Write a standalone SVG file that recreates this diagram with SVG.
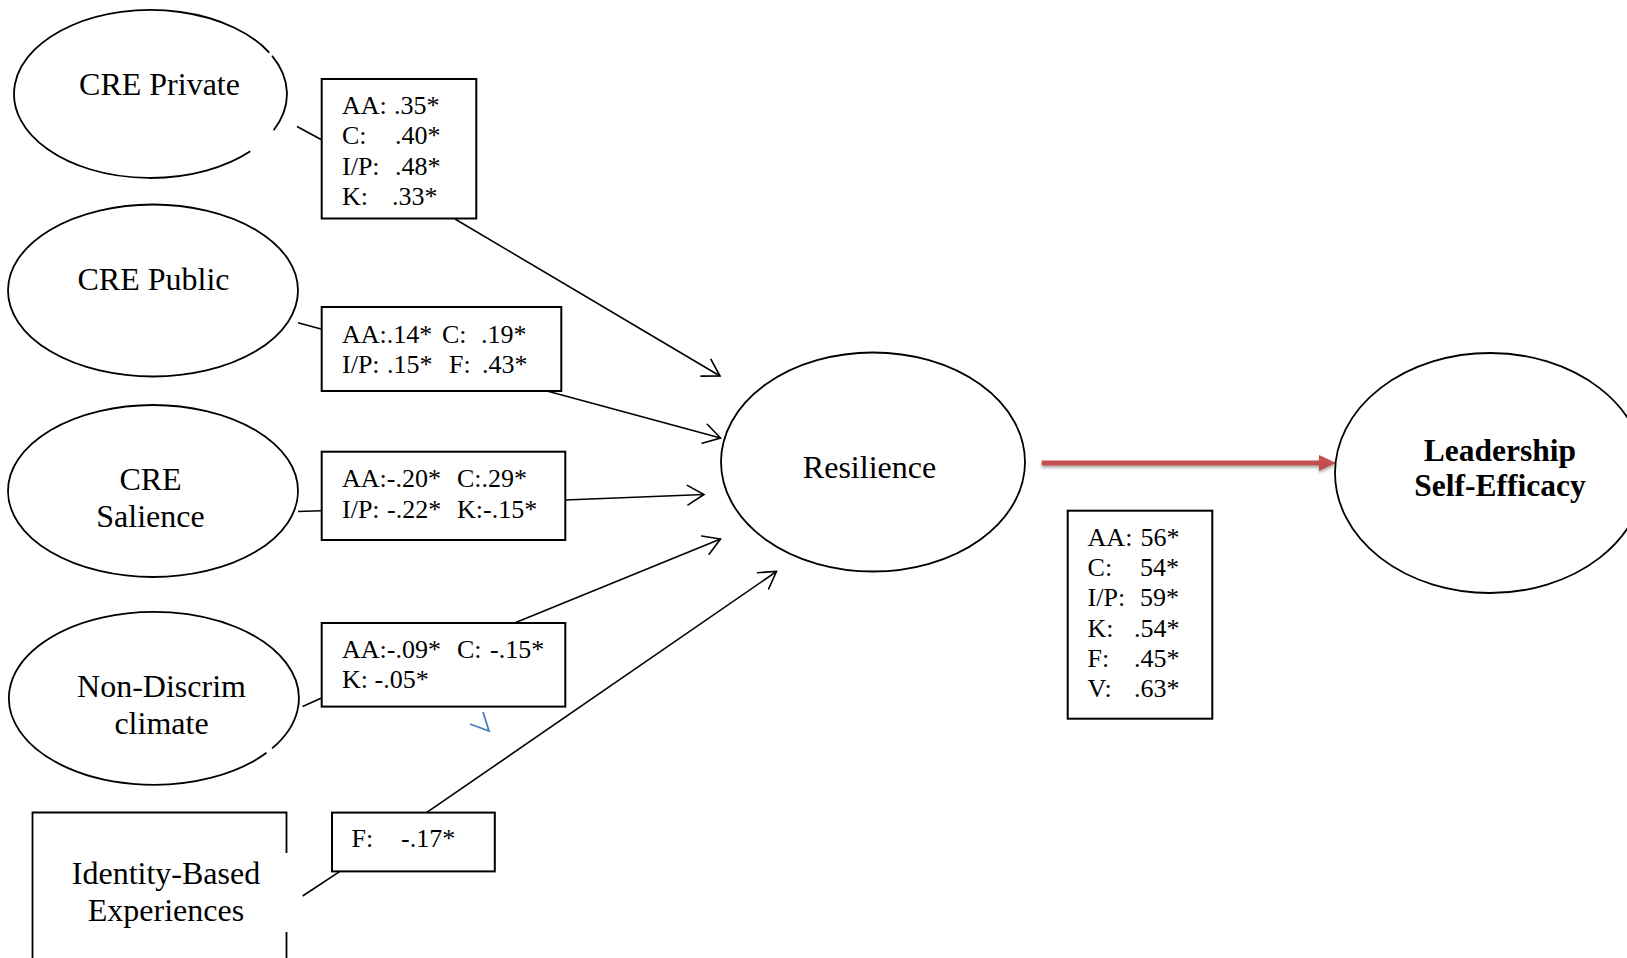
<svg xmlns="http://www.w3.org/2000/svg" width="1627" height="958" viewBox="0 0 1627 958">
  <defs>
    <style>
      .lbl { font-family: "Liberation Serif", "Times New Roman", serif; font-size: 32px; fill: #000; }
      .bold { font-family: "Liberation Serif", "Times New Roman", serif; font-size: 31.5px; font-weight: bold; fill: #000; }
      .val { font-family: "Liberation Serif", "Times New Roman", serif; font-size: 26px; fill: #000; }
      .node { fill: none; stroke: #000; stroke-width: 1.8; }
      .box { fill: #fff; stroke: #000; stroke-width: 2; }
      .conn { fill: none; stroke: #000; stroke-width: 1.6; }
      .arr { marker-end: url(#open); }
    </style>
    <marker id="open" markerUnits="userSpaceOnUse" markerWidth="22" markerHeight="22" viewBox="0 0 22 22" refX="20" refY="11" orient="auto">
      <path d="M3.7,1.2 L20,11 L3.7,20.8" fill="none" stroke="#000" stroke-width="1.6" stroke-linecap="round" stroke-linejoin="miter"/>
    </marker>
    <filter id="shadow" x="-5%" y="-100%" width="110%" height="300%">
      <feDropShadow dx="0" dy="2" stdDeviation="1.5" flood-color="#000" flood-opacity="0.35"/>
    </filter>
  </defs>

  <rect x="0" y="0" width="1627" height="958" fill="#fff"/>

  <g id="connectors">
    <line class="conn" x1="297" y1="126.5" x2="322" y2="140"/>
    <line class="conn arr" x1="455" y1="219" x2="720" y2="376"/>
    <line class="conn" x1="298" y1="322.7" x2="321" y2="329"/>
    <line class="conn arr" x1="547" y1="391" x2="720.5" y2="438"/>
    <line class="conn" x1="298" y1="511.5" x2="321" y2="510.8"/>
    <line class="conn arr" x1="565" y1="500" x2="704" y2="494.5"/>
    <line class="conn" x1="302.6" y1="706.5" x2="321" y2="698.3"/>
    <line class="conn arr" x1="514.5" y1="623" x2="720.5" y2="539"/>
    <line class="conn" x1="302.6" y1="896" x2="339.6" y2="871.7"/>
    <line class="conn arr" x1="426.5" y1="812.7" x2="776.5" y2="571.5"/>
    <g id="red-arrow" filter="url(#shadow)">
      <line x1="1041.7" y1="463" x2="1321" y2="463" stroke="#c0504d" stroke-width="5"/>
      <polygon points="1319,455 1336,463 1319,471" fill="#c0504d"/>
    </g>
    <path d="M470,724 L489,731 L483,712" fill="none" stroke="#4a7ebb" stroke-width="1.8"/>
  </g>

  <g id="cre-private">
    <path class="node" d="M272.1,55.9 A136.5,84 0 0 1 273.7,130.2 M250.3,151.3 A136.5,84 0 1 1 269.3,52.6"/>
    <text class="lbl" x="159.5" y="95" text-anchor="middle">CRE Private</text>
  </g>

  <g id="cre-public">
    <ellipse class="node" cx="153" cy="290.5" rx="145" ry="86"/>
    <text class="lbl" x="153.5" y="290" text-anchor="middle">CRE Public</text>
  </g>

  <g id="cre-salience">
    <ellipse class="node" cx="153" cy="491" rx="145" ry="86"/>
    <text class="lbl" x="150.5" y="490" text-anchor="middle">CRE</text>
    <text class="lbl" x="150.5" y="527" text-anchor="middle">Salience</text>
  </g>

  <g id="non-discrim">
    <path class="node" d="M266.5,752.8 A145,86.5 0 1 1 272.1,748.4"/>
    <text class="lbl" x="161.5" y="697" text-anchor="middle">Non-Discrim</text>
    <text class="lbl" x="161.5" y="734" text-anchor="middle">climate</text>
  </g>

  <g id="identity-based">
    <path class="node" d="M32.5,970 L32.5,812.5 L286.5,812.5 L286.5,853 M286.5,932 L286.5,970" stroke-width="2"/>
    <text class="lbl" x="166" y="884" text-anchor="middle">Identity-Based</text>
    <text class="lbl" x="166" y="921" text-anchor="middle">Experiences</text>
  </g>

  <g id="resilience">
    <ellipse class="node" cx="873" cy="462" rx="152" ry="109.5"/>
    <text class="lbl" x="869.5" y="478" text-anchor="middle">Resilience</text>
  </g>

  <g id="leadership-self-efficacy">
    <ellipse class="node" cx="1490" cy="473" rx="155" ry="120"/>
    <text class="bold" x="1500" y="461" text-anchor="middle">Leadership</text>
    <text class="bold" x="1500" y="496" text-anchor="middle">Self-Efficacy</text>
  </g>

  <g id="box-private">
    <rect class="box" x="321.7" y="79" width="154.6" height="139.5"/>
    <text class="val" y="114"><tspan x="342">AA:</tspan><tspan x="394">.35*</tspan></text>
    <text class="val" y="144"><tspan x="342">C:</tspan><tspan x="395">.40*</tspan></text>
    <text class="val" y="174.5"><tspan x="342">I/P:</tspan><tspan x="395">.48*</tspan></text>
    <text class="val" y="205"><tspan x="342">K:</tspan><tspan x="392">.33*</tspan></text>
  </g>

  <g id="box-public">
    <rect class="box" x="321.7" y="307" width="239.6" height="84"/>
    <text class="val" y="343"><tspan x="342">AA:.14*</tspan><tspan x="442">C:</tspan><tspan x="481">.19*</tspan></text>
    <text class="val" y="373"><tspan x="342">I/P:</tspan><tspan x="387">.15*</tspan><tspan x="449">F:</tspan><tspan x="482">.43*</tspan></text>
  </g>

  <g id="box-salience">
    <rect class="box" x="321.7" y="451.7" width="243.6" height="88.3"/>
    <text class="val" y="487"><tspan x="342">AA:-.20*</tspan><tspan x="457">C:.29*</tspan></text>
    <text class="val" y="518"><tspan x="342">I/P:</tspan><tspan x="387">-.22*</tspan><tspan x="457">K:-.15*</tspan></text>
  </g>

  <g id="box-nondiscrim">
    <rect class="box" x="321.7" y="623" width="243.6" height="83.6"/>
    <text class="val" y="658"><tspan x="342">AA:-.09*</tspan><tspan x="457">C:</tspan><tspan x="490">-.15*</tspan></text>
    <text class="val" y="688"><tspan x="342">K: -.05*</tspan></text>
  </g>

  <g id="box-identity">
    <rect class="box" x="332" y="812.6" width="162.8" height="58.8"/>
    <text class="val" y="847"><tspan x="351.5">F:</tspan><tspan x="401">-.17*</tspan></text>
  </g>

  <g id="box-resilience">
    <rect class="box" x="1067.7" y="510.7" width="144.6" height="208"/>
    <text class="val" y="546"><tspan x="1087.6">AA:</tspan><tspan x="1140.5">56*</tspan></text>
    <text class="val" y="576"><tspan x="1087.6">C:</tspan><tspan x="1140">54*</tspan></text>
    <text class="val" y="606"><tspan x="1087.6">I/P:</tspan><tspan x="1140">59*</tspan></text>
    <text class="val" y="637"><tspan x="1087.6">K:</tspan><tspan x="1134">.54*</tspan></text>
    <text class="val" y="667"><tspan x="1087.6">F:</tspan><tspan x="1134">.45*</tspan></text>
    <text class="val" y="697"><tspan x="1087.6">V:</tspan><tspan x="1134">.63*</tspan></text>
  </g>
</svg>
